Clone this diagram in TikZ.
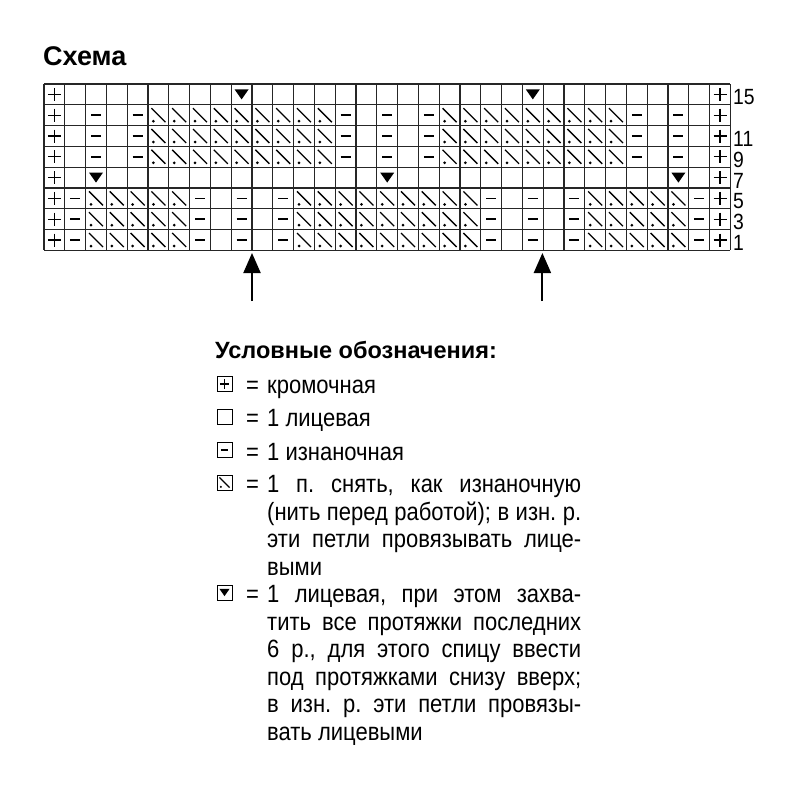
\documentclass[tikz,border=0pt]{standalone}
\usepackage{fontspec}
\setmainfont{Liberation Sans}
\newfontfamily\legfont{Liberation Sans}[FakeStretch=0.88]
\usetikzlibrary{arrows.meta}
\frenchspacing

\newcommand\jline[1]{\makebox[314pt][s]{#1}}

\begin{document}
\begin{tikzpicture}[x=1pt,y=-1pt,
    gridline/.style={line width=1.1pt, black!85},
    legtxt/.style={inner sep=0pt, anchor=base west, font=\legfont\fontsize{25}{30}\selectfont},
    legbox/.style={draw, line width=0.9pt, minimum size=15pt, inner sep=0pt},
    rownum/.style={inner sep=0pt, anchor=base west, font=\legfont\fontsize{22}{26}\selectfont},
    uparrow/.style={line width=2pt, -{Triangle[length=20pt,width=17pt]}},
    stk/.pic={\draw[line width=1.1pt] (-6.5,0) -- (6.5,0) (0,-6.5) -- (0,6.5);},
    sto/.pic={},
    stp/.pic={\draw[line width=1.7pt] (-5,0) -- (5,0);},
    sts/.pic={\draw[line width=1.3pt] (-7,-7) -- (7,7); \fill (-5,6) circle (1.5);},
    stt/.pic={\fill (-7,-5) -- (7,-5) -- (0,5) -- cycle;}]

    \fill[white] (0,0) rectangle (800,800);
    \useasboundingbox (0,0) rectangle (800,800);

    \node[inner sep=0pt, anchor=base west, font=\bfseries\fontsize{27}{32}\selectfont] (schema) at (43,66) {Схема};

    % chart cells
    \foreach \r/\pat in {
        1/{k,o,o,o,o,o,o,o,o,t,o,o,o,o,o,o,o,o,o,o,o,o,o,t,o,o,o,o,o,o,o,o,k},
        2/{k,o,p,o,p,s,s,s,s,s,s,s,s,s,p,o,p,o,p,s,s,s,s,s,s,s,s,s,p,o,p,o,k},
        3/{k,o,p,o,p,s,s,s,s,s,s,s,s,s,p,o,p,o,p,s,s,s,s,s,s,s,s,s,p,o,p,o,k},
        4/{k,o,p,o,p,s,s,s,s,s,s,s,s,s,p,o,p,o,p,s,s,s,s,s,s,s,s,s,p,o,p,o,k},
        5/{k,o,t,o,o,o,o,o,o,o,o,o,o,o,o,o,t,o,o,o,o,o,o,o,o,o,o,o,o,o,t,o,k},
        6/{k,p,s,s,s,s,s,p,o,p,o,p,s,s,s,s,s,s,s,s,s,p,o,p,o,p,s,s,s,s,s,p,k},
        7/{k,p,s,s,s,s,s,p,o,p,o,p,s,s,s,s,s,s,s,s,s,p,o,p,o,p,s,s,s,s,s,p,k},
        8/{k,p,s,s,s,s,s,p,o,p,o,p,s,s,s,s,s,s,s,s,s,p,o,p,o,p,s,s,s,s,s,p,k}}
    {
        \foreach \c [count=\i] in \pat
            \pic at ({44+(\i-0.5)*20.8},{84+(\r-0.5)*20.8}) {st\c};
    }
    \foreach \i in {0,...,33}
        \draw[gridline] ({44+\i*20.8},84) -- ({44+\i*20.8},250.4);
    \foreach \j in {0,...,8}
        \draw[gridline] (44,{84+\j*20.8}) -- (730.4,{84+\j*20.8});

    % row numbers
    \foreach \r/\n in {1/15,3/11,4/9,5/7,6/5,7/3,8/1}
        \node[rownum] (row\n) at (733,{84+\r*20.8}) {\n};

    % arrows
    \coordinate (tipA) at (252,253);
    \coordinate (tailA) at (252,301);
    \coordinate (tipB) at (542.4,253);
    \coordinate (tailB) at (542.4,301);
    \draw[uparrow] (tailA) -- (tipA);
    \draw[uparrow] (tailB) -- (tipB);

    % legend
    \node[inner sep=0pt, anchor=base west, font=\bfseries\fontsize{23.5}{28}\selectfont] (legtitle) at (215,358) {Условные обозначения:};

    \node[legbox] (box1) at (224.5,384) {};
    \pic[scale=0.72] at (box1) {stk};
    \node[legtxt] (eq1) at (246,393) {=};
    \node[legtxt] (txt1) at (267,393) {кромочная};

    \node[legbox] (box2) at (224.5,417) {};
    \node[legtxt] (eq2) at (246,426.5) {=};
    \node[legtxt] (txt2) at (267,426.5) {1 лицевая};

    \node[legbox] (box3) at (224.5,450) {};
    \pic[scale=0.72] at (box3) {stp};
    \node[legtxt] (eq3) at (246,460) {=};
    \node[legtxt] (txt3) at (267,460) {1 изнаночная};

    \node[legbox] (box4) at (224.5,482.5) {};
    \pic[scale=0.72] at (box4) {sts};
    \node[legtxt] (eq4) at (246,492.5) {=};
    \node[legtxt] (txt4a) at (267,492.5) {\jline{1 п. снять, как изнаночную}};
    \node[legtxt] (txt4b) at (267,520) {\jline{(нить перед работой); в изн. р.}};
    \node[legtxt] (txt4c) at (267,547.5) {\jline{эти петли провязывать лице-}};
    \node[legtxt] (txt4d) at (267,575) {выми};

    \node[legbox] (box5) at (224.5,592.5) {};
    \pic[scale=0.72] at (box5) {stt};
    \node[legtxt] (eq5) at (246,602.5) {=};
    \node[legtxt] (txt5a) at (267,602.5) {\jline{1 лицевая, при этом захва-}};
    \node[legtxt] (txt5b) at (267,630) {\jline{тить все протяжки последних}};
    \node[legtxt] (txt5c) at (267,657.5) {\jline{6 р., для этого спицу ввести}};
    \node[legtxt] (txt5d) at (267,685) {\jline{под протяжками снизу вверх;}};
    \node[legtxt] (txt5e) at (267,712.5) {\jline{в изн. р. эти петли провязы-}};
    \node[legtxt] (txt5f) at (267,740) {вать лицевыми};
\end{tikzpicture}
\end{document}
